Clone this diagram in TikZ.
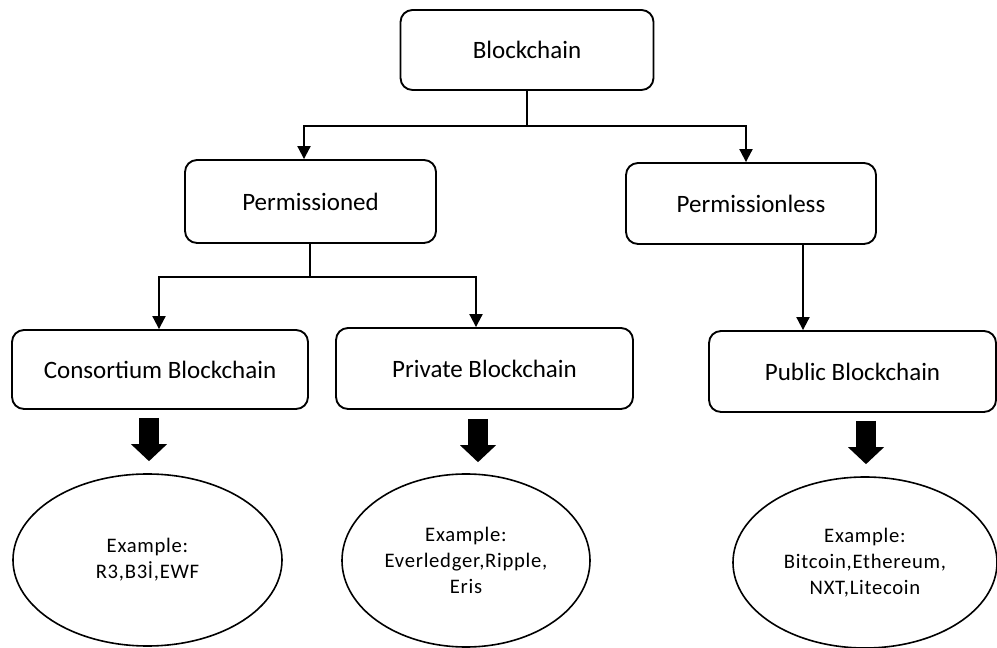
\documentclass[tikz,border=0pt]{standalone}
\usepackage{fontspec}
\setmainfont{Carlito}
\newfontfamily\examplefont[LetterSpace=3.5]{Carlito}
\usetikzlibrary{arrows.meta,shapes.geometric,calc}
\begin{document}
\begin{tikzpicture}[x=0.75pt,y=-0.75pt,
  box/.style={draw, line width=1.4pt, rounded corners=9pt, inner sep=0pt,
    font=\fontsize{18.75}{22}\selectfont},
  example/.style={draw, ellipse, line width=1.2pt, inner sep=0pt, align=center,
    font=\examplefont\fontsize{15.5}{19.5}\selectfont},
  link/.style={line width=1.5pt, -{Triangle[length=9.75pt,width=9.75pt]}},
  fatarrow/.style={line width=15pt, -{Triangle[length=12.75pt,width=26.25pt]}}]

\useasboundingbox (0,0) rectangle (997,648);

% tree of blockchain kinds
\node[box, minimum width=189.75pt, minimum height=60pt]    (bc)   at (527,50)    {Blockchain};
\node[box, minimum width=188.25pt, minimum height=62.25pt] (perm) at (310.5,201.5) {Permissioned};
\node[box, minimum width=187.5pt,  minimum height=60.75pt] (pl)   at (751,203.5)  {Permissionless};
\node[box, minimum width=222pt,    minimum height=59.25pt] (cons) at (160,369.5)  {Consortium Blockchain};
\node[box, minimum width=222.75pt, minimum height=60.75pt] (priv) at (484.5,368.5) {Private Blockchain};
\node[box, minimum width=215.25pt, minimum height=60.75pt] (pub)  at (852.5,371.5) {Public Blockchain};

% example ellipses
\node[example, minimum width=201.75pt, minimum height=129pt]   (e1) at (147.5,560)   {Example:\\R3,B3İ,EWF};
\node[example, minimum width=186pt,    minimum height=129.75pt] (e2) at (466,560.5)   {Example:\\Everledger,Ripple,\\Eris};
\node[example, minimum width=198pt,    minimum height=128.25pt] (e3) at (865,562.5)   {Example:\\Bitcoin,Ethereum,\\NXT,Litecoin};

% branch points
\coordinate (j1) at (527,126);
\coordinate (j2) at (310,277);
\coordinate (px) at (803,0);

% connectors
\draw[line width=1.5pt] (bc.south) -- (j1);
\draw[link] (j1) -| ($(perm.north)+(-6.5,0)$);
\draw[link] (j1) -| ($(pl.north)+(-5,0)$);
\draw[line width=1.5pt] (perm.south -| j2) -- (j2);
\draw[link] (j2) -| (cons.north -| 159,0);
\draw[link] (j2) -| ($(priv.north)+(-8.5,0)$);
\draw[link] (pl.south -| px) -- (pub.north -| px);

% block arrows to the examples
\draw[fatarrow] ($(cons.south)+(-11,8)$) coordinate (f1) -- ($(f1 |- e1.north)+(0,-12)$);
\draw[fatarrow] ($(priv.south)+(-6.5,9)$) coordinate (f2) -- ($(f2 |- e2.north)+(0,-11)$);
\draw[fatarrow] ($(pub.south)+(13.5,8)$) coordinate (f3) -- ($(f3 |- e3.north)+(0,-12)$);

\end{tikzpicture}
\end{document}
